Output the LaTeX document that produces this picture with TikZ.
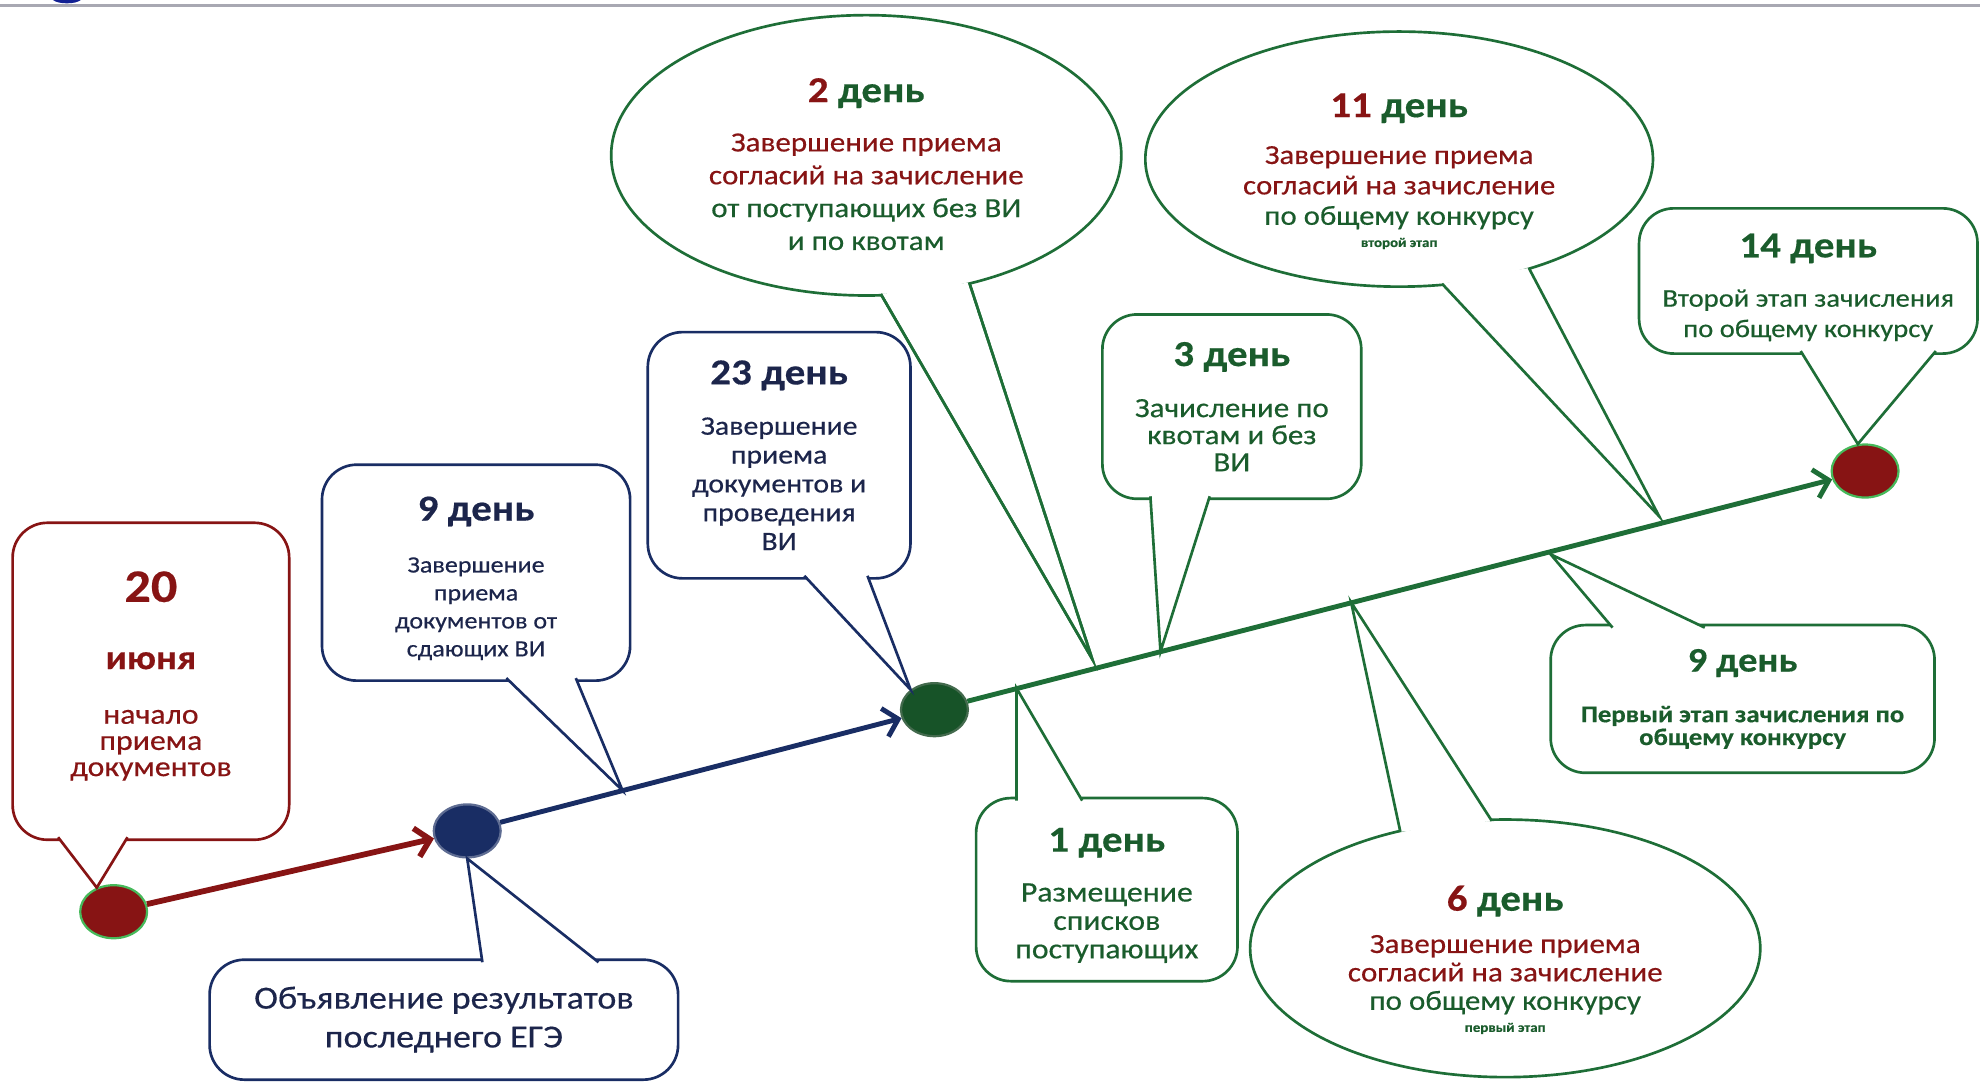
\documentclass[tikz,border=0pt]{standalone}
\usepackage{fontspec}
\setmainfont{Carlito}[FakeStretch=1.12, FakeBold=0.4]
\usetikzlibrary{shapes.geometric,arrows.meta,calc}

\definecolor{dred}{RGB}{135,20,20}
\definecolor{navy}{RGB}{25,45,100}
\definecolor{ink}{RGB}{28,37,75}
\definecolor{grn}{RGB}{30,110,55}
\definecolor{dgrn}{RGB}{26,92,44}
\definecolor{ring}{RGB}{70,185,90}
\definecolor{rulegray}{RGB}{168,168,178}

\tikzset{
  callbox/.style={draw, line width=1.2pt, fill=white, rounded corners=5.5mm, align=center, inner sep=0pt},
  calloval/.style={draw, ellipse, line width=1.2pt, fill=white, align=center, inner sep=0pt},
  calltail/.style={fill=white, line width=1.2pt},
  tldot/.style={ellipse, minimum width=10.6mm, minimum height=8.4mm, inner sep=0pt, line width=1pt},
  tline/.style={line width=2.2pt},
}
\newcommand\hd{\bfseries\fontsize{16.5}{18}\selectfont}
\newcommand\topgap[1]{\rule{0pt}{#1}}
\newcommand\botgap[1]{\rule[-#1]{0pt}{#1}}

\begin{document}
\begin{tikzpicture}[x=0.2mm, y=-0.2mm, >={Straight Barb[length=2.2mm,width=4.6mm]}]
	\useasboundingbox (0,0) rectangle (1568,858);
	\draw[rulegray, line width=1.4pt] (0,4) -- (1568,4);
	\fill[navy!70!blue] (42,0) .. controls (46,3.5) and (60,3.5) .. (64,0) -- cycle;
	
	% timeline points
	\node[tldot, fill=dred, draw=ring] (d0) at (90,722) {};
	\node[tldot, fill=navy, draw=navy!70] (d1) at (370,658) {};
	\node[tldot, fill=dgrn!90!black, draw=dgrn!60!gray] (d2) at (740,562) {};
	\node[tldot, fill=dred, draw=ring] (d3) at (1477,373) {};
	
	\coordinate (t9) at (493,626);
	\coordinate (t2) at (865,522);
	\coordinate (t3) at (919,516);
	\coordinate (t1) at (805,545);
	\coordinate (t6) at (1070,477);
	\coordinate (t9g) at (1228,439);
	\coordinate (t11) at (1314,409);
	
	% 20 june
	\node[callbox, draw=dred, text=dred, minimum width=43.8mm, minimum height=50.2mm, font=\fontsize{12.8}{11.8}\selectfont] (b20) at (119.5,539.5)
		{{\bfseries\fontsize{21}{22}\selectfont 20}\\[6.5mm]{\bfseries\fontsize{15.5}{16}\selectfont июня}\\[4.5mm]начало\\приема\\документов\botgap{2.4mm}};
	\coordinate (b20a) at (46,663);
	\coordinate (b20b) at (101,663);
	\draw[calltail, draw=dred] (b20a) -- (d0.125) -- (b20b);
	
	% blue part
	\node[callbox, draw=navy, text=ink, minimum width=48.8mm, minimum height=34.2mm, font=\fontsize{10.5}{12.6}\selectfont] (b9) at (377,453.5)
		{{\hd\topgap{5.6mm}9 день}\\[3.8mm]Завершение\\приема\\документов от\\сдающих ВИ};
	\coordinate (b9a) at (401,537);
	\coordinate (b9b) at (456,537);
	\draw[calltail, draw=navy] (b9a) -- (t9) -- (b9b);
	
	\node[callbox, draw=navy, text=ink, minimum width=74.2mm, minimum height=19mm, font=\fontsize{14.5}{17.5}\selectfont] (bege) at (351.5,807.5)
		{Объявление результатов\\последнего ЕГЭ};
	\coordinate (bega) at (382,762);
	\coordinate (begb) at (474,762);
	\draw[calltail, draw=navy] (bega) -- (d1.south) -- (begb);
	
	% 2 day
	\node[calloval, draw=grn, text=dgrn, minimum width=80.8mm, minimum height=44.4mm, font=\fontsize{12.5}{14.8}\selectfont] (e2) at (686,123)
		{{\hd\topgap{6.6mm}\textcolor{dred}{2} день}\\[2.6mm]\textcolor{dred}{Завершение приема}\\\textcolor{dred}{согласий на зачисление}\\от поступающих без ВИ\\и по квотам};
	\coordinate (e2a) at ($(e2.-84)!0.4mm!(e2.center)$);
	\coordinate (e2b) at ($(e2.-51)!0.4mm!(e2.center)$);
	\draw[calltail, draw=grn] (e2a) -- (t2) -- (e2b);
	
	\node[callbox, draw=navy, text=ink, minimum width=41.6mm, minimum height=39mm, font=\fontsize{12}{13}\selectfont] (b23) at (617,360.5)
		{{\hd 23 день}\\[3.4mm]Завершение\\приема\\документов и\\проведения\\ВИ};
	\coordinate (b23a) at (637,456);
	\coordinate (b23b) at (687,456);
	\draw[calltail, draw=navy] (b23a) -- (d2.140) -- (b23b);
	\draw[grn, line width=1.2pt] (e2a) -- (t2) -- (e2b);
	
	% green part
	\node[callbox, draw=grn, text=dgrn, minimum width=41mm, minimum height=29.2mm, font=\fontsize{12.5}{12.2}\selectfont] (b3) at (975.5,322)
		{{\hd 3 день}\\[3.8mm]Зачисление по\\квотам и без\\ВИ};
	\coordinate (b3a) at (911,393);
	\coordinate (b3b) at (958,393);
	\draw[calltail, draw=grn] (b3a) -- (t3) -- (b3b);
	
	\node[callbox, draw=grn, text=dgrn, minimum width=41.4mm, minimum height=29mm, font=\fontsize{12.8}{12.8}\selectfont] (b1) at (876.5,704.5)
		{{\hd\topgap{5.6mm}1 день}\\[3.4mm]Размещение\\списков\\поступающих};
	\coordinate (b1a) at (805,634);
	\coordinate (b1b) at (857,634);
	\draw[calltail, draw=grn] (b1a) -- (t1) -- (b1b);
	
	\node[calloval, draw=grn, text=dgrn, minimum width=80.4mm, minimum height=40.4mm, font=\fontsize{12.4}{13.7}\selectfont] (e11) at (1108,126)
		{{\hd\topgap{7.6mm}\textcolor{dred}{11} день}\\[2.6mm]\textcolor{dred}{Завершение приема}\\\textcolor{dred}{согласий на зачисление}\\по общему конкурсу\\[-1.3mm]{\bfseries\fontsize{6}{7}\selectfont второй этап}};
	\coordinate (e11a) at ($(e11.-71)!0.4mm!(e11.center)$);
	\coordinate (e11b) at ($(e11.-40)!0.4mm!(e11.center)$);
	\draw[calltail, draw=grn] (e11a) -- (t11) -- (e11b);
	
	\node[calloval, draw=grn, text=dgrn, minimum width=80.8mm, minimum height=40.8mm, font=\fontsize{12.5}{12.8}\selectfont] (e6) at (1192,751)
		{{\hd\topgap{7.6mm}\textcolor{dred}{6} день}\\[2.2mm]\textcolor{dred}{Завершение приема}\\\textcolor{dred}{согласий на зачисление}\\по общему конкурсу\\[-1mm]{\bfseries\fontsize{6}{7}\selectfont первый этап}};
	\coordinate (e6a) at ($(e6.132)!0.4mm!(e6.center)$);
	\coordinate (e6b) at ($(e6.96)!0.4mm!(e6.center)$);
	\draw[calltail, draw=grn] (e6a) -- (t6) -- (e6b);
	
	\node[callbox, draw=grn, text=dgrn, minimum width=60.8mm, minimum height=23.4mm, font=\bfseries\fontsize{10.8}{10.3}\selectfont] (b9g) at (1380,553.5)
		{{\hd\fontsize{15.5}{17}\selectfont 9 день}\\[4.4mm]Первый этап зачисления по\\общему конкурсу};
	\coordinate (b9ga) at (1277,497);
	\coordinate (b9gb) at (1350,497);
	\draw[calltail, draw=grn] (b9ga) -- (t9g) -- (b9gb);
	
	\node[callbox, draw=grn, text=dgrn, minimum width=53.6mm, minimum height=23mm, font=\fontsize{11.5}{13.7}\selectfont] (b14) at (1432,222.5)
		{{\hd\topgap{5.8mm}14 день}\\[3mm]Второй этап зачисления\\по общему конкурсу};
	\coordinate (b14a) at (1426,278);
	\coordinate (b14b) at (1533,278);
	\draw[calltail, draw=grn] (b14a) -- (d3.105) -- (b14b);
	
	% arrows
	\draw[tline, dred, line width=2.6pt, ->] (d0) -- (d1);
	\draw[tline, navy, ->] (d1) -- (d2);
	\draw[tline, grn, ->] (d2) -- (d3);
	
\end{tikzpicture}
\end{document}
